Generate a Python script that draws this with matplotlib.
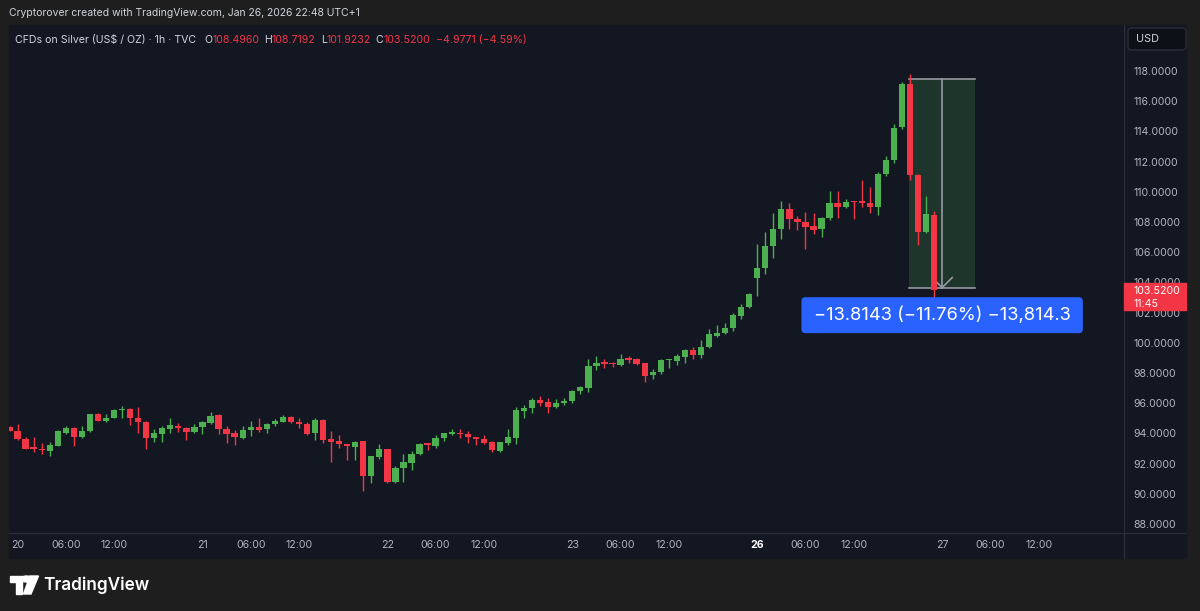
import matplotlib
matplotlib.use("Agg")
import matplotlib.pyplot as plt
from matplotlib.patches import Rectangle, FancyBboxPatch, Polygon, Circle

plt.rcParams['font.family'] = ['Inter', 'DejaVu Sans']

# hourly candles, Jan 20 -> Jan 26 (bar 0 = Jan 19 23:00, weekend removed)
opens = [94.44, 94.18, 93.63, 93.08, 93.00, 92.83, 93.17, 94.05, 94.38, 93.74,
         94.16, 95.28, 94.82, 95.04, 95.52, 95.62, 95.04, 94.78, 93.67, 93.96,
         94.29, 94.51, 94.38, 94.07, 94.45, 94.67, 95.22, 94.29, 94.05, 93.72,
         94.23, 94.45, 94.27, 94.60, 94.78, 95.07, 94.78, 94.62, 94.05, 94.89,
         93.61, 93.52, 93.30, 93.12, 93.50, 91.18, 92.46, 92.97, 90.76, 91.69,
         92.06, 92.61, 93.34, 93.19, 93.72, 93.96, 94.05, 93.96, 93.74, 93.63,
         93.45, 92.86, 93.34, 93.67, 95.48, 95.70, 96.21, 96.10, 95.73, 95.99,
         96.17, 96.81, 96.98, 98.49, 98.75, 98.68, 98.53, 98.97, 98.93, 98.64,
         97.87, 98.04, 98.84, 98.82, 99.08, 99.52, 99.19, 99.70, 100.47, 100.67,
         100.95, 101.77, 102.35, 104.31, 104.93, 106.41, 107.51, 108.84, 108.18, 108.02,
         107.74, 107.51, 108.29, 109.24, 108.97, 109.39, 109.39, 109.28, 109.02, 111.18,
         112.11, 114.27, 117.14, 111.11, 107.36, 108.496]
highs = [94.48, 94.62, 93.78, 93.78, 93.34, 93.45, 94.22, 94.51, 94.40, 94.49,
         95.30, 95.38, 95.30, 95.60, 95.83, 95.66, 95.77, 94.82, 94.27, 94.46,
         95.00, 94.67, 94.40, 94.60, 94.82, 95.43, 95.30, 94.49, 94.20, 94.49,
         94.82, 95.04, 94.71, 94.95, 95.22, 95.13, 95.00, 94.78, 95.00, 94.95,
         94.16, 93.90, 93.32, 93.52, 93.52, 92.52, 93.28, 92.99, 91.86, 92.64,
         92.83, 93.34, 93.36, 93.90, 94.05, 94.27, 94.27, 94.16, 93.76, 93.90,
         93.47, 93.45, 94.27, 95.73, 95.88, 96.37, 96.48, 96.32, 96.26, 96.32,
         96.87, 97.14, 98.93, 99.13, 98.90, 98.75, 99.26, 99.15, 98.97, 98.66,
         98.24, 98.90, 98.92, 99.26, 99.59, 99.70, 100.19, 100.90, 101.20, 101.33,
         101.95, 102.57, 103.32, 106.52, 107.36, 108.62, 109.41, 109.28, 108.40, 108.64,
         108.62, 108.31, 110.05, 110.05, 109.52, 109.40, 110.78, 110.34, 111.33, 112.37,
         114.49, 117.25, 117.80, 111.15, 109.72, 108.7192]
lows = [94.15, 93.56, 92.95, 92.77, 92.62, 92.50, 93.15, 93.94, 93.17, 93.72,
        94.12, 94.80, 94.78, 95.02, 95.04, 94.56, 94.05, 92.96, 93.41, 93.41,
        94.05, 94.12, 93.56, 94.00, 93.94, 94.62, 93.94, 93.34, 93.23, 93.63,
        93.85, 94.12, 94.05, 94.51, 94.73, 94.70, 94.34, 93.89, 93.56, 93.34,
        92.13, 93.01, 92.24, 92.24, 90.19, 90.69, 92.28, 90.70, 90.69, 90.76,
        91.58, 92.57, 92.90, 93.06, 93.52, 93.90, 93.67, 93.34, 93.23, 93.30,
        92.75, 92.75, 93.23, 93.30, 95.00, 95.33, 95.81, 95.38, 95.70, 95.88,
        96.03, 96.61, 96.76, 98.20, 98.35, 98.42, 98.46, 98.64, 98.53, 97.43,
        97.60, 97.91, 98.35, 98.53, 98.64, 98.90, 99.01, 99.63, 100.36, 100.55,
        100.80, 101.55, 102.28, 103.10, 104.56, 105.59, 106.85, 107.51, 107.47, 106.19,
        107.21, 107.03, 108.13, 108.29, 108.95, 108.18, 109.02, 108.57, 108.46, 111.05,
        111.89, 114.14, 110.78, 106.48, 107.25, 101.9232]
closes = [94.18, 93.63, 92.96, 93.00, 92.90, 93.23, 94.16, 94.38, 93.79, 94.16,
          95.27, 94.82, 95.04, 95.55, 95.62, 95.04, 94.74, 93.67, 94.00, 94.38,
          94.56, 94.34, 94.07, 94.45, 94.74, 95.17, 94.29, 93.96, 93.79, 94.23,
          94.45, 94.23, 94.62, 94.82, 95.07, 94.75, 94.62, 93.96, 94.89, 93.56,
          93.45, 93.28, 93.19, 93.45, 91.18, 92.50, 92.97, 90.76, 91.73, 92.08,
          92.64, 93.28, 93.23, 93.72, 94.00, 94.11, 93.94, 93.74, 93.63, 93.34,
          92.90, 93.41, 93.74, 95.55, 95.70, 96.21, 96.03, 95.73, 96.03, 96.15,
          96.83, 97.05, 98.49, 98.68, 98.60, 98.58, 98.93, 98.86, 98.60, 97.82,
          98.09, 98.86, 98.92, 99.13, 99.52, 99.19, 99.74, 100.58, 100.67, 100.95,
          101.84, 102.39, 103.21, 104.93, 106.41, 107.51, 108.84, 108.18, 108.02, 107.69,
          107.47, 108.29, 109.24, 108.97, 109.35, 109.30, 109.24, 109.02, 111.18, 112.11,
          114.25, 117.14, 111.11, 107.36, 108.497, 103.52]

tick_bars = [1, 7, 13, 24, 30, 36, 47, 53, 59, 70, 76, 82, 93, 99, 105, 116, 122, 128]
tick_labels = ['20', '06:00', '12:00', '21', '06:00', '12:00', '22', '06:00', '12:00',
               '23', '06:00', '12:00', '26', '06:00', '12:00', '27', '06:00', '12:00']
price_ticks = list(range(88, 119, 2))

# measure tool
measure_from, measure_to = 112, 120
measure_top, measure_bottom = 117.47, 103.656
measure_text = "\u221213.8143 (\u221211.76%) \u221213,814.3"

W, H = 1200, 611
OUTER = '#1e1e1e'
PANE = '#131722'
LINE = '#2a2e39'
TXT = '#b2b5be'
UP = '#4caf50'
DOWN = '#f23645'


def fx(x):
    return x / W


def fy(y):
    return 1 - y / H


fig = plt.figure(figsize=(12, 6.11), dpi=100, facecolor=OUTER)

# chart pane background + separators
fig.patches.append(Rectangle((fx(9), fy(558)), fx(1186 - 9), (558 - 25) / H,
                             transform=fig.transFigure, color=PANE, zorder=-5))
fig.lines.append(plt.Line2D([fx(9), fx(1186)], [fy(533), fy(533)], color=LINE, lw=1,
                            transform=fig.transFigure, zorder=-4))
fig.lines.append(plt.Line2D([fx(1124), fx(1124)], [fy(25), fy(558)], color=LINE, lw=1,
                            transform=fig.transFigure, zorder=-4))

ax = fig.add_axes([fx(9), fy(533), fx(1124 - 9), (533 - 25) / H], facecolor=PANE)
for s in ax.spines.values():
    s.set_visible(False)

n = len(opens)
for i in range(n):
    o, h, l, c = opens[i], highs[i], lows[i], closes[i]
    col = UP if c >= o else DOWN
    ax.vlines(i, l, h, color=col, lw=1, zorder=3)
    lo, hi = min(o, c), max(o, c)
    if hi - lo < 0.1:
        mid = (hi + lo) / 2
        lo, hi = mid - 0.05, mid + 0.05
    ax.add_patch(Rectangle((i - 0.39, lo), 0.78, hi - lo, color=col, lw=0, zorder=4))

# measurement rectangle
ax.add_patch(Rectangle((measure_from - 0.1, measure_bottom), measure_to - measure_from + 0.2,
                       measure_top - measure_bottom, facecolor=UP, alpha=0.2, lw=0, zorder=1))
mx = (measure_from + measure_to) / 2
for yv in (measure_top, measure_bottom):
    ax.plot([measure_from - 0.1, measure_to + 0.1], [yv, yv], color='#9598a1', lw=1.2, zorder=2)
ax.plot([mx, mx], [measure_top, measure_bottom], color='#9598a1', lw=1.2, zorder=2)
ax.plot([mx - 1.25, mx, mx + 1.25], [measure_bottom + 0.66, measure_bottom, measure_bottom + 0.66],
        color='#9598a1', lw=1.2, zorder=2)

box = FancyBboxPatch((mx - 17.5, 100.64), 35.0, 2.38,
                     boxstyle="round,pad=0,rounding_size=0.5", mutation_aspect=0.53,
                     facecolor='#2962ff', lw=0, zorder=6)
ax.add_patch(box)
ax.text(mx, 101.83, measure_text, color='white', fontsize=13.2, ha='center', va='center', zorder=7)

ax.set_xlim((9 - 9.5) / 8.04, (1124 - 9.5) / 8.04)
ax.set_ylim(118 - (533 - 71) / 15.1, 118 + (71 - 25) / 15.1)

ax.yaxis.tick_right()
ax.set_yticks(price_ticks)
ax.set_yticklabels([f"{v:.4f}" for v in price_ticks])
ax.tick_params(axis='y', length=0, pad=6.5, labelcolor=TXT, labelsize=7.6)
ax.set_xticks(tick_bars)
ax.set_xticklabels(tick_labels)
ax.tick_params(axis='x', length=0, pad=5.0, labelcolor=TXT, labelsize=7.6)
for t in ax.get_xticklabels():
    if t.get_text() == '26':
        t.set_fontweight('bold')
        t.set_color('#ffffff')

# current price label on the scale
fig.patches.append(Rectangle((fx(1124), fy(310)), fx(62), 27 / H, transform=fig.transFigure,
                             color=DOWN, zorder=5))
fig.text(fx(1133), fy(291.5), "103.5200", color='white', fontsize=7.6, va='center', zorder=6)
fig.text(fx(1133), fy(304), "11:45", color='white', fontsize=7.6, va='center', zorder=6)

# USD box
fig.patches.append(FancyBboxPatch((fx(1128), fy(50)), fx(58), 22 / H, transform=fig.transFigure,
                                  boxstyle="round,pad=0,rounding_size=0.004",
                                  facecolor='#0e1017', edgecolor=LINE, lw=1, zorder=5))
fig.text(fx(1136), fy(39.5), "USD", color='#d1d4dc', fontsize=7.8, va='center', zorder=6)

# watermark line
fig.text(fx(9), fy(13), "Cryptorover created with TradingView.com, Jan 26, 2026 22:48 UTC+1",
         color='#d1d4dc', fontsize=7.5, va='center')

# legend header
renderer = fig.canvas.get_renderer()
parts = [("CFDs on Silver (US$ / OZ) \u00b7 1h \u00b7 TVC", '#d1d4dc', 8),
         ("O", '#d1d4dc', 0), ("108.4960", DOWN, 5),
         ("H", '#d1d4dc', 0), ("108.7192", DOWN, 5),
         ("L", '#d1d4dc', 0), ("101.9232", DOWN, 5),
         ("C", '#d1d4dc', 0), ("103.5200", DOWN, 6),
         ("\u22124.9771 (\u22124.59%)", DOWN, 0)]
x = 15
for s, col, gap in parts:
    t = fig.text(fx(x), fy(40), s, color=col, fontsize=7.6, va='center', ha='left')
    x += t.get_window_extent(renderer=renderer).width + gap

# TradingView logo
def px_poly(pts, **kw):
    fig.patches.append(Polygon([(fx(a), fy(b)) for a, b in pts], closed=True,
                               transform=fig.transFigure, **kw))

px_poly([(10, 576), (22, 576), (22, 594), (16, 594), (16, 582), (10, 582)], color='white')
fig.patches.append(Circle((fx(26.5), fy(579)), 3 / H, transform=fig.transFigure, color='white'))
px_poly([(30, 576), (38.5, 576), (31, 594), (23.5, 594)], color='white')
fig.text(fx(43), fy(585), "TradingView", color='white', fontsize=12.4, fontweight='semibold',
         va='center')

fig.savefig("out.png", dpi=100, facecolor=OUTER)
